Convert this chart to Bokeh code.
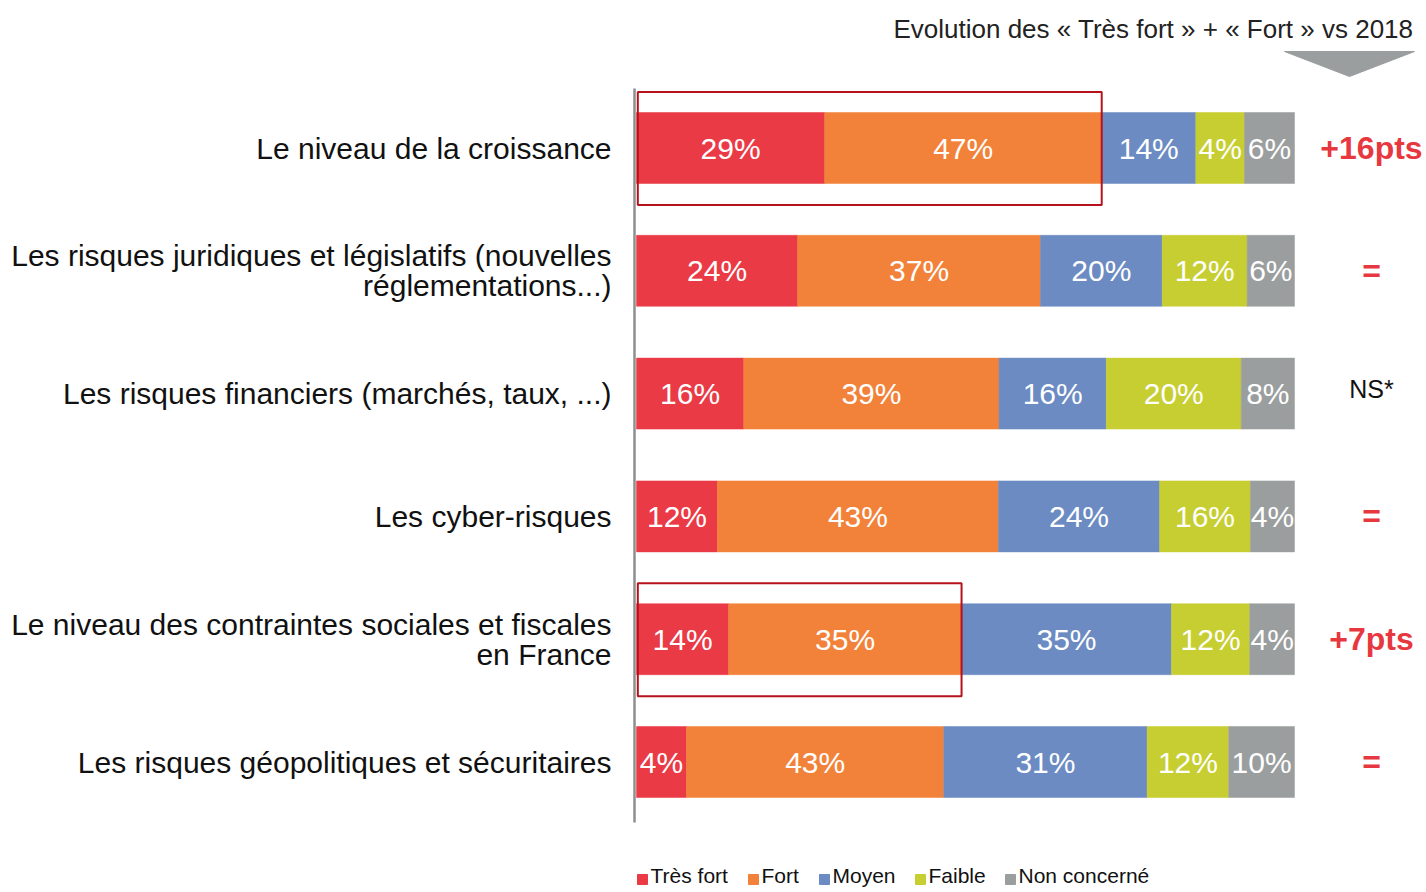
import numpy as np
from bokeh.plotting import figure
from bokeh.models import Range1d, ColumnDataSource
from bokeh.core.properties import value
from bokeh.embed import file_html
from bokeh.resources import INLINE

# ---------------- data ----------------
categories = [
    "Le niveau de la croissance",
    "Les risques juridiques et législatifs (nouvelles\nréglementations...)",
    "Les risques financiers (marchés, taux, ...)",
    "Les cyber-risques",
    "Le niveau des contraintes sociales et fiscales\nen France",
    "Les risques géopolitiques et sécuritaires",
]
series = ["Très fort", "Fort", "Moyen", "Faible", "Non concerné"]

# printed percentages
pct_tres_fort = [29, 24, 16, 12, 14, 4]
pct_fort = [47, 37, 39, 43, 35, 43]
pct_moyen = [14, 20, 16, 24, 35, 31]
pct_faible = [4, 12, 20, 16, 12, 12]
pct_non = [6, 6, 8, 4, 4, 10]

# segment lengths as drawn in the picture (share of the bar, %)
drawn_tres_fort = [28.6, 24.5, 16.3, 12.3, 14.0, 7.6]
drawn_fort = [42.1, 36.9, 38.8, 42.7, 35.4, 39.1]
drawn_moyen = [14.3, 18.5, 16.3, 24.5, 31.9, 30.9]
drawn_faible = [7.4, 12.9, 20.5, 13.8, 11.9, 12.4]
drawn_non = [7.6, 7.2, 8.1, 6.7, 6.8, 10.0]

evolution = ["+16pts", "=", "NS*", "=", "+7pts", "="]
highlight = [True, False, False, False, True, False]

colors = ["#EA3A46", "#F2823A", "#6B8BC2", "#C7CE32", "#9B9E9E"]

title_text = "Evolution des « Très fort » + « Fort » vs 2018"

# ---------------- layout helpers (page pixels -> plot units) ----------------
X0, XS = 636.0, 6.58      # page x of 0 %, pixels per %
Y0, YS = 147.5, 122.8     # page y of first row centre, pixels per row
LEFT, TOP = 0, 0
W, H = 1422, 890


def px(xp):
    return (xp - X0) / XS


def py(yp):
    return (yp - Y0) / YS


FONT = value("Liberation Sans")

p = figure(width=W, height=H, output_backend="svg", toolbar_location=None,
           x_range=Range1d(px(LEFT), px(LEFT + W)),
           y_range=Range1d(py(TOP + H), py(TOP)),
           min_border=0, background_fill_color="white",
           border_fill_color="white")
p.axis.visible = False
p.grid.visible = False
p.outline_line_color = None

rows = np.arange(len(categories))
drawn = [drawn_tres_fort, drawn_fort, drawn_moyen, drawn_faible, drawn_non]
pcts = [pct_tres_fort, pct_fort, pct_moyen, pct_faible, pct_non]

left = np.zeros(len(categories))
for s, (d, pc, col) in enumerate(zip(drawn, pcts, colors)):
    d = np.array(d, dtype=float)
    right = left + d
    src = ColumnDataSource(dict(y=rows, left=left, right=right,
                                mid=(left + right) / 2,
                                lab=[f"{v}%" for v in pc]))
    p.hbar(y="y", left="left", right="right", height=71 / YS, source=src,
           fill_color=col, line_color=col, line_width=0.5)
    p.text(x="mid", y="y", text="lab", source=src, text_color="white",
           text_font=FONT, text_font_size="30px", text_align="center",
           text_baseline="middle")
    left = right

# vertical axis line
p.segment(x0=[px(634)], y0=[py(88)], x1=[px(634)], y1=[py(822)],
          line_color="#8E8E8E", line_width=2.5)

# highlight boxes around "Très fort" + "Fort"
first_two = np.array(drawn_tres_fort) + np.array(drawn_fort)
for i, h in enumerate(highlight):
    if h:
        p.quad(left=[0.2], right=[first_two[i]], bottom=[i + 57 / YS],
               top=[i - 56 / YS], fill_color=None, line_color="#B5121B",
               line_width=2)

# category labels (right aligned)
for i, cat in enumerate(categories):
    lines = cat.split("\n")
    n = len(lines)
    for j, ln in enumerate(lines):
        off = (j - (n - 1) / 2) * 30 / YS
        p.text(x=[px(611)], y=[i + off], text=[ln], text_color="#111111",
               text_font=FONT, text_font_size="30px", text_align="right",
               text_baseline="middle")

# evolution column
for i, ev in enumerate(evolution):
    if ev.startswith("NS"):
        p.text(x=[px(1371)], y=[i - 5 / YS], text=[ev], text_color="#111111",
               text_font=FONT, text_font_size="25px", text_align="center",
               text_baseline="middle")
    else:
        p.text(x=[px(1371)], y=[i], text=[ev], text_color="#E8383F",
               text_font=FONT, text_font_size="32px", text_font_style="bold",
               text_align="center", text_baseline="middle")

# title and arrow
p.text(x=[px(1413)], y=[py(28)], text=[title_text], text_color="#222222",
       text_font=FONT, text_font_size="26px", text_align="right",
       text_baseline="middle")
p.patch(x=[px(1284), px(1414), px(1349)], y=[py(51), py(51), py(76)],
        fill_color="#9B9E9E", line_color="#9B9E9E")

# legend
leg_x = [637, 748, 819, 915, 1005]
for name, col, lx in zip(series, colors, leg_x):
    p.scatter(x=[px(lx + 5)], y=[py(879)], marker="square", size=10,
              fill_color=col, line_color=col)
    p.text(x=[px(lx + 13)], y=[py(875)], text=[name], text_color="#111111",
           text_font=FONT, text_font_size="21px", text_align="left",
           text_baseline="middle")

open("out.html", "w").write(file_html(p, INLINE))
